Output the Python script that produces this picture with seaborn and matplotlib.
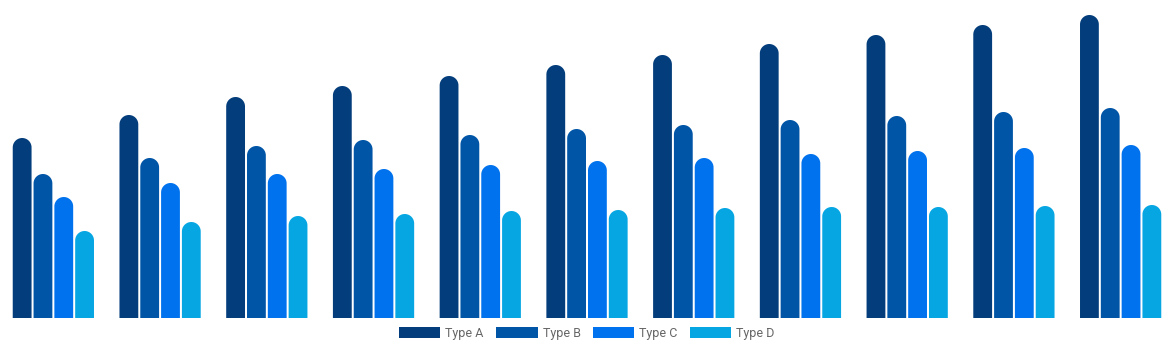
import numpy as np
import pandas as pd
import matplotlib
matplotlib.use("Agg")
import matplotlib.pyplot as plt
from matplotlib.patches import Polygon, Patch
import seaborn as sns

categories = [f"G{i}" for i in range(1, 12)]
series_names = ["Type A", "Type B", "Type C", "Type D"]
type_a = [180, 203, 221, 232, 242, 253, 263, 274, 283, 293, 303]
type_b = [144, 160, 172, 178, 183, 189, 193, 198, 202, 206, 210]
type_c = [121, 135, 144, 149, 153, 157, 160, 164, 167, 170, 173]
type_d = [87, 96, 102, 104, 107, 108, 110, 111, 111, 112, 113]
colors = ["#033D7B", "#0055A7", "#0072EE", "#06A6E3"]

rows = []
for name, vals in zip(series_names, [type_a, type_b, type_c, type_d]):
    for c, v in zip(categories, vals):
        rows.append({"cat": c, "series": name, "value": v})
df = pd.DataFrame(rows)

W, H = 1174, 350
fig = plt.figure(figsize=(W / 100, H / 100), dpi=100)
ax = fig.add_axes([0, (H - 318) / H, 1, 318 / H])
sns.set_style("white")
sns.barplot(data=df, x="cat", y="value", hue="series", order=categories,
            hue_order=series_names, palette=colors, width=0.78,
            ax=ax, legend=False, linewidth=0, saturation=1)
ax.set_ylim(0, 318)
ax.set_xlim(-0.5, len(categories) - 0.5)
ax.axis("off")

# turn rectangles into round-topped bars (single polygon each)
x_units_per_px = len(categories) / W
aspect = 1.0 / x_units_per_px
gap = 2 * x_units_per_px
t = np.linspace(0, np.pi, 40)
for rect in list(ax.patches):
    x, w, h = rect.get_x(), rect.get_width(), rect.get_height()
    fc = rect.get_facecolor()
    rect.set_visible(False)
    bw = w - gap
    r = bw / 2
    ry = r * aspect
    cx = x + w / 2
    x0, x1 = cx - r, cx + r
    arc = np.column_stack([cx + r * np.cos(t), (h - ry) + ry * np.sin(t)])
    pts = np.vstack([[x0, 0], [x1, 0], [x1, h - ry], arc[1:-1], [x0, h - ry]])
    ax.add_patch(Polygon(pts, closed=True, facecolor=fc, edgecolor="none"))

handles = [Patch(facecolor=c, edgecolor="none") for c in colors]
fig.legend(handles, series_names, loc="center", bbox_to_anchor=(0.5, 1 - 333 / H),
           ncol=4, frameon=False, handlelength=3.3, handleheight=0.95,
           handletextpad=0.4, columnspacing=1.0, labelcolor="#666666",
           prop={"family": ["Roboto", "DejaVu Sans"], "size": 9})

fig.savefig("out.png", dpi=100)
